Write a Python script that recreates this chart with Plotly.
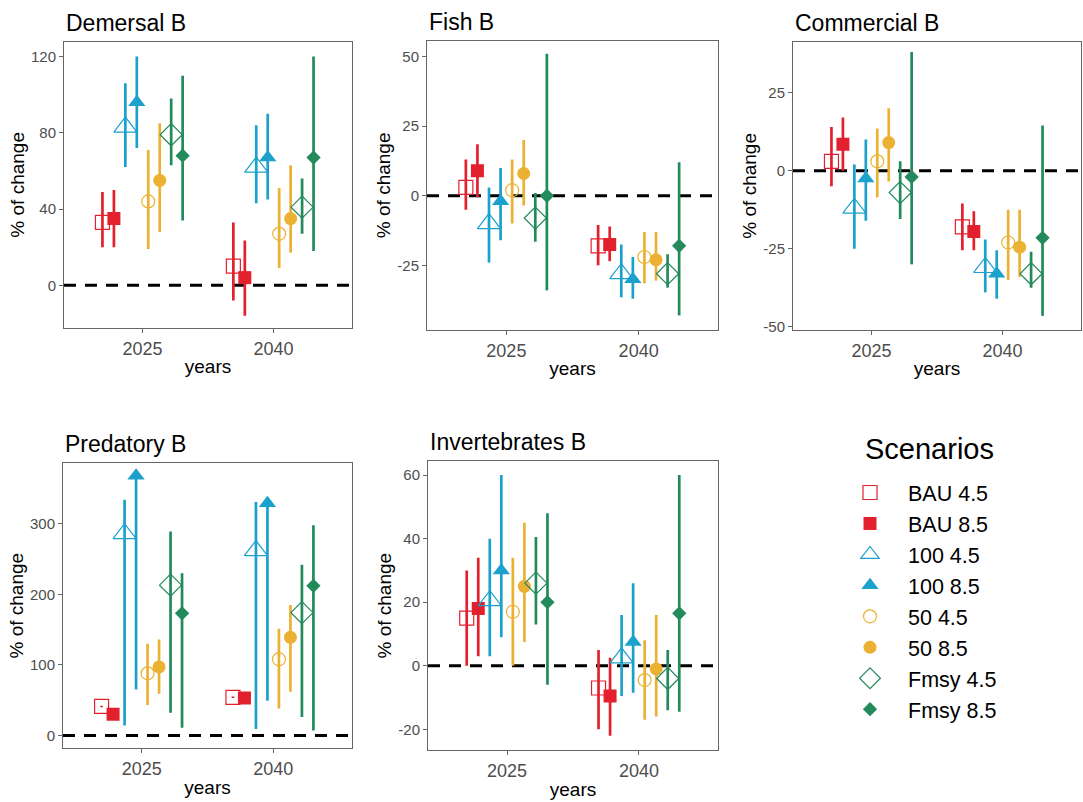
import plotly.graph_objects as go

scenarios = ["BAU 4.5", "BAU 8.5", "100 4.5", "100 8.5", "50 4.5", "50 8.5", "Fmsy 4.5", "Fmsy 8.5"]
years = ["2025", "2040"]

# each row is a scenario, columns are [2025, 2040]
demersal_mid = [[33, 10], [35, 4], [83, 62], [96, 67], [44, 27], [55, 35], [79, 41], [68, 67]]
demersal_low = [[20, -8], [20, -16], [62, 43], [72, 45], [19, 9], [28, 17], [63, 27], [34, 18]]
demersal_high = [[49, 33], [50, 23.5], [106, 84], [120, 90], [71, 51], [85, 63], [98, 56], [110, 120]]

fish_mid = [[3, -18], [9, -17.5], [-10, -28], [-2, -30], [2, -22], [8, -23], [-8, -28], [0, -18]]
fish_low = [[-5, -25], [-0.5, -23.5], [-24, -36.5], [-16, -37], [-10, -31.5], [-3.5, -30.5], [-16.5, -33], [-34, -43]]
fish_high = [[13, -10.5], [18.5, -11], [3, -17.5], [10, -22], [13, -13], [20, -13], [1, -21], [51, 12]]

commercial_mid = [[3, -18], [8.5, -19.5], [-12, -31], [-2.5, -33], [3, -23], [9, -24.5], [-7, -33], [-2, -21.5]]
commercial_low = [[-5, -25.5], [0, -25.5], [-25, -39], [-16, -41], [-8.5, -35], [-3.5, -34], [-15.5, -37.5], [-30, -46.5]]
commercial_high = [[14, -10.5], [17, -13], [2, -22], [10, -25.5], [13.5, -12.5], [20, -12.5], [3, -26], [38, 14.5]]

predatory_mid = [[41, 54], [30, 53], [286, 262], [368, 329], [88, 108], [97, 139], [213, 174], [173, 212]]
predatory_low = [[40, 53], [29, 52], [14, 9], [65, 49], [43, 38], [59, 62], [32, 26], [11, 7]]
predatory_high = [[42, 55], [31, 54], [334, 331], [370, 331], [130, 151], [136, 185], [289, 242], [230, 298]]

invert_mid = [[15, -7], [18, -9.5], [20.5, 2.5], [30, 7.5], [17, -4.5], [25, -1], [26, -4], [20, 16.5]]
invert_low = [[0, -20], [3, -22], [3, -9.5], [9, -8.5], [0, -17], [7.5, -16], [13, -14], [-6, -14.5]]
invert_high = [[30, 5], [34, 2.5], [40, 16], [60, 26], [34, 8], [45, 16], [40.5, 5], [48, 60]]

colors = ["#E3202E", "#E3202E", "#1BA1CC", "#1BA1CC", "#EBB132", "#EBB132", "#238A5C", "#238A5C"]
symbols = ["square-open", "square", "triangle-up-open", "triangle-up",
           "circle-open", "circle", "diamond-open", "diamond"]
sizes = [14, 13, 20, 15, 13, 13, 17, 11]

# panel name, data, y range, y ticks, box in px (left, right, top, bottom)
panels = [
    ("Demersal B", demersal_mid, demersal_low, demersal_high, [-22.4, 127.8], [0, 40, 80, 120], (64, 352, 42, 330)),
    ("Fish B", fish_mid, fish_low, fish_high, [-48.2, 55.7], [-25, 0, 25, 50], (427, 718, 41, 332)),
    ("Commercial B", commercial_mid, commercial_low, commercial_high, [-51, 41.3], [-50, -25, 0, 25], (793, 1081, 42, 332)),
    ("Predatory B", predatory_mid, predatory_low, predatory_high, [-18.3, 386], [0, 100, 200, 300], (63, 352, 466, 753)),
    ("Invertebrates B", invert_mid, invert_low, invert_high, [-26.6, 64.4], [-20, 0, 20, 40, 60], (428, 718, 464, 755)),
]

W, H = 1083, 802
FONT = "Liberation Sans, Arial, sans-serif"
dodge = 0.7

fig = go.Figure()
layout = {}
annotations = []
shapes = []

for p, (name, mid, low, high, yr, yt, box) in enumerate(panels):
    sfx = "" if p == 0 else str(p + 1)
    left, right, top, bottom = box
    for i, sc in enumerate(scenarios):
        off = (i + 0.5) * dodge / len(scenarios) - dodge / 2
        xs = [k + 1 + off for k in range(len(years))]
        ys = mid[i]
        up = [high[i][k] - ys[k] for k in range(len(years))]
        dn = [ys[k] - low[i][k] for k in range(len(years))]
        is_open = symbols[i].endswith("open")
        fig.add_trace(go.Scatter(
            x=xs, y=ys, mode="markers", name=sc,
            xaxis="x" + sfx, yaxis="y" + sfx,
            legendgroup=sc, showlegend=(p == 0),
            marker=dict(symbol=symbols[i], size=sizes[i], color=colors[i],
                        line=dict(width=1.2 if is_open else 0, color=colors[i])),
            error_y=dict(type="data", array=up, arrayminus=dn, symmetric=False,
                         width=0, thickness=2.7, color=colors[i]),
        ))

    layout["xaxis" + sfx] = dict(
        domain=[left / W, right / W], anchor="y" + sfx, range=[0.4, 2.6],
        tickvals=[1, 2], ticktext=years, showgrid=False, zeroline=False,
        showline=True, mirror=True, linecolor="#666666", linewidth=1,
        ticks="outside", ticklen=4, tickcolor="#666666",
        tickfont=dict(size=18, color="#4D4D4D", family=FONT),
        title=dict(text="years", font=dict(size=19, color="black", family=FONT), standoff=2),
    )
    layout["yaxis" + sfx] = dict(
        domain=[1 - bottom / H, 1 - top / H], anchor="x" + sfx, range=yr,
        tickvals=yt, ticktext=[str(v) for v in yt], showgrid=False, zeroline=False,
        showline=True, mirror=True, linecolor="#666666", linewidth=1,
        ticks="outside", ticklen=4, tickcolor="#666666",
        tickfont=dict(size=15, color="#4D4D4D", family=FONT),
        title=dict(text="% of change", font=dict(size=19, color="black", family=FONT), standoff=1),
    )
    shapes.append(dict(type="line", xref="x" + sfx + " domain", yref="y" + sfx,
                       x0=0, x1=1, y0=0, y1=0,
                       line=dict(color="black", width=3, dash="12px,9px"), layer="below"))
    annotations.append(dict(text=name, xref="paper", yref="paper",
                            x=left / W, y=1 - (top - 19) / H, xanchor="left", yanchor="middle",
                            showarrow=False, font=dict(size=23, color="black", family=FONT)))

# legend heading, drawn apart so the keys can sit further right than the heading
annotations.append(dict(text="Scenarios", xref="paper", yref="paper",
                        x=863 / W, y=1 - 452 / H, xanchor="left", yanchor="middle",
                        showarrow=False, font=dict(size=29, color="black", family=FONT)))

fig.update_layout(
    width=W, height=H,
    margin=dict(l=0, r=0, t=0, b=0),
    paper_bgcolor="white", plot_bgcolor="white",
    font=dict(family=FONT),
    shapes=shapes, annotations=annotations,
    legend=dict(x=832 / W, y=1 - 475 / H, xanchor="left", yanchor="top",
                font=dict(size=21.5, color="black", family=FONT),
                itemsizing="trace", itemwidth=66, tracegroupgap=0, bgcolor="rgba(0,0,0,0)"),
    **layout,
)

# drop the browser's default page margin so the figure sits at the window corner
fig.write_html("out.html", config={"displayModeBar": False},
               post_script="document.body.style.margin = '0';")
